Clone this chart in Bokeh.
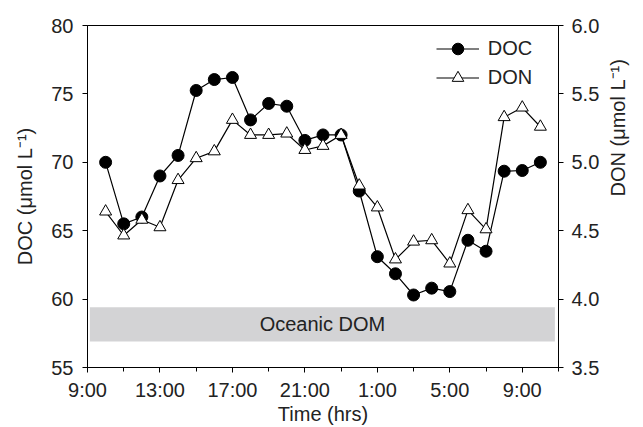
import math
from bokeh.plotting import figure
from bokeh.models import (Range1d, LinearAxis, FixedTicker, BoxAnnotation, Label,
                          Legend, LegendItem, ColumnDataSource)
from bokeh.embed import file_html
from bokeh.resources import INLINE

# ---- data (hours after 9:00 on day 1) ----
hours = list(range(1, 26))
doc = [70.0, 65.5, 66.0, 69.0, 70.5, 75.25, 76.05, 76.2, 73.1, 74.3,
       74.1, 71.6, 72.0, 72.0, 67.9, 63.1, 61.85, 60.3, 60.8, 60.55,
       64.3, 63.5, 69.35, 69.4, 70.0]
don = [4.64, 4.465, 4.58, 4.525, 4.87, 5.03, 5.08, 5.31, 5.2, 5.2,
       5.21, 5.09, 5.12, 5.2, 4.83, 4.67, 4.29, 4.42, 4.43, 4.26,
       4.65, 4.51, 5.33, 5.40, 5.26]
x_tick_pos = [0, 4, 8, 12, 16, 20, 24]
x_tick_labels = ["9:00", "13:00", "17:00", "21:00", "1:00", "5:00", "9:00"]
doc_ticks = [55, 60, 65, 70, 75, 80]
don_ticks = [3.5, 4.0, 4.5, 5.0, 5.5, 6.0]
oceanic_dom = [56.9, 59.4]

FONT = "Liberation Sans"
TXT = "#222222"
FS = "20px"

src = ColumnDataSource(dict(h=hours, doc=doc, don=don))

p = figure(width=643, height=427, output_backend="svg", toolbar_location=None,
           x_range=Range1d(0, 26), y_range=Range1d(55, 80),
           min_border_left=87, min_border_right=83, min_border_top=25,
           min_border_bottom=60)
p.extra_y_ranges = {"don": Range1d(3.5, 6.0)}
p.xgrid.visible = False
p.ygrid.visible = False
p.outline_line_color = "black"
p.outline_line_width = 1
p.background_fill_color = "white"
p.border_fill_color = "white"

# axes
xa = p.xaxis[0]
xa.ticker = FixedTicker(ticks=x_tick_pos, minor_ticks=[2, 6, 10, 14, 18, 22, 26])
xa.major_label_overrides = {t: l for t, l in zip(x_tick_pos, x_tick_labels)}
xa.axis_label = "Time (hrs)"
xa.major_label_standoff = 6
xa.axis_label_standoff = -1

ya = p.yaxis[0]
ya.ticker = FixedTicker(ticks=doc_ticks)
ya.axis_label = "DOC (μmol L⁻¹)"
ya.major_label_standoff = 9
ya.axis_label_standoff = 12

ra = LinearAxis(y_range_name="don", ticker=FixedTicker(ticks=don_ticks))
ra.major_label_overrides = {t: f"{t:.1f}" for t in don_ticks}
ra.axis_label = "DON (μmol L⁻¹)"
ra.axis_label_orientation = math.pi / 2
ra.major_label_standoff = 8
ra.axis_label_standoff = 16
p.add_layout(ra, "right")

for ax in (xa, ya, ra):
    ax.axis_line_color = "black"
    ax.axis_line_width = 1
    ax.major_tick_line_color = "black"
    ax.minor_tick_line_color = "black"
    ax.major_tick_in = 0
    ax.major_tick_out = 5
    ax.minor_tick_in = 0
    ax.minor_tick_out = 4
    ax.major_label_text_font = FONT
    ax.major_label_text_font_size = FS
    ax.major_label_text_color = TXT
    ax.axis_label_text_font = FONT
    ax.axis_label_text_font_size = FS
    ax.axis_label_text_font_style = "normal"
    ax.axis_label_text_color = TXT
ya.minor_tick_line_color = None
ra.minor_tick_line_color = None

# oceanic DOM band
band = BoxAnnotation(left=0.13, right=25.8, bottom=oceanic_dom[0], top=oceanic_dom[1],
                     fill_color="#d3d3d5", fill_alpha=1, line_color=None, level="underlay")
p.add_layout(band)
p.add_layout(Label(x=12.97, y=sum(oceanic_dom) / 2, text="Oceanic DOM",
                   text_align="center", text_baseline="middle",
                   text_font=FONT, text_font_size=FS, text_color=TXT))

# series
doc_line = p.line("h", "doc", source=src, line_color="black", line_width=1.2)
doc_pts = p.scatter("h", "doc", source=src, marker="circle", size=12,
                    fill_color="black", line_color="black")
don_line = p.line("h", "don", source=src, y_range_name="don",
                  line_color="black", line_width=1.2)
don_pts = p.scatter("h", "don", source=src, y_range_name="don", marker="triangle",
                    size=12, fill_color="white", line_color="black", line_width=1)

legend = Legend(items=[LegendItem(label="DOC", renderers=[doc_line, doc_pts]),
                       LegendItem(label="DON", renderers=[don_line, don_pts])],
                location=(348.7, 275.2), glyph_width=43, glyph_height=29,
                spacing=-6, label_standoff=9, padding=0, margin=0,
                border_line_color=None, background_fill_alpha=0,
                label_text_font=FONT, label_text_font_size=FS,
                label_text_color=TXT)
p.add_layout(legend)

open("out.html", "w").write(file_html(p, INLINE))
